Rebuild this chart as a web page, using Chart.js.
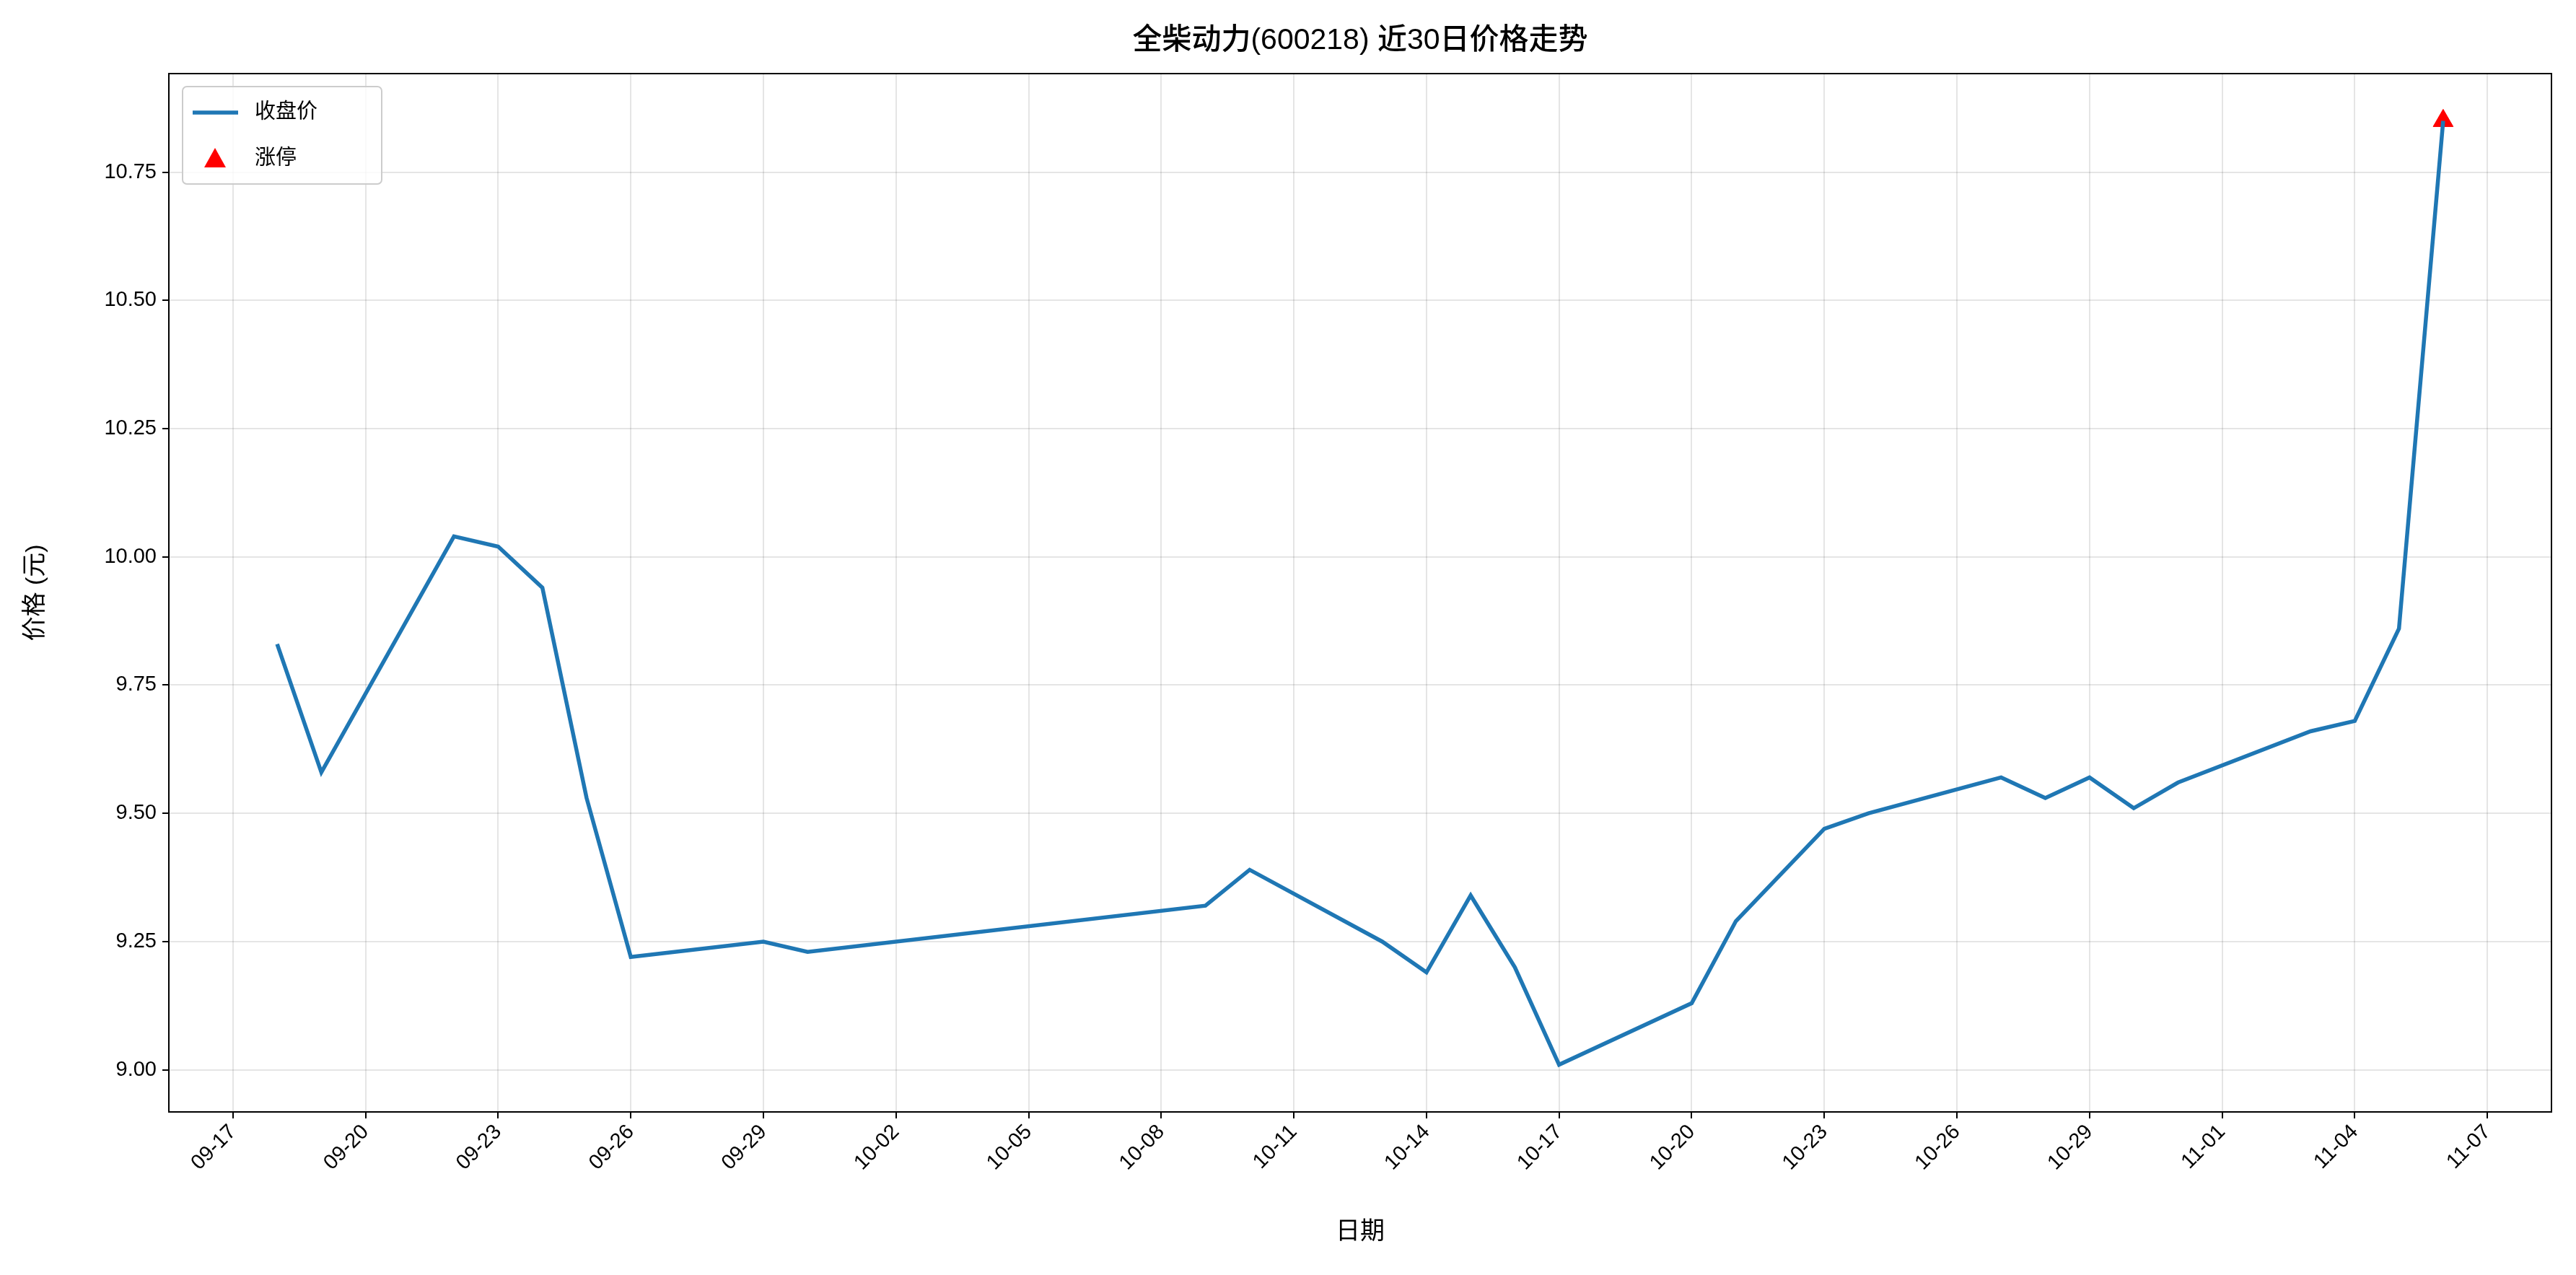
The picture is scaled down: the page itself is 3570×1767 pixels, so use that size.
<!DOCTYPE html>
<html>
<head>
<meta charset="utf-8">
<script src="https://cdn.jsdelivr.net/npm/chart.js"></script>
<style>
  body { margin: 0; background: #fff; }
  #wrap { width: 3570px; height: 1767px; }
</style>
</head>
<body>
<div id="wrap"><canvas id="price_chart" width="3570" height="1767"></canvas></div>
<script>
// dates (MM-DD) and closing prices
const dates = ['09-18','09-19','09-22','09-23','09-24','09-25','09-26','09-29','09-30',
  '10-09','10-10','10-13','10-14','10-15','10-16','10-17','10-20','10-21','10-22','10-23',
  '10-24','10-27','10-28','10-29','10-30','10-31','11-03','11-04','11-05','11-06'];
const closes = [9.83, 9.58, 10.04, 10.02, 9.94, 9.53, 9.22, 9.25, 9.23,
  9.32, 9.39, 9.25, 9.19, 9.34, 9.20, 9.01, 9.13, 9.29, 9.38, 9.47,
  9.50, 9.57, 9.53, 9.57, 9.51, 9.56, 9.66, 9.68, 9.86, 10.85];
const limitUpDates = ['11-06'];
const limitUpPrices = [10.85];

const base = Date.UTC(2025, 8, 17); // 09-17
const dayOf = s => {
  const [m, d] = s.split('-').map(Number);
  return Math.round((Date.UTC(2025, m - 1, d) - base) / 86400000);
};
const labelOf = n => {
  const dt = new Date(base + n * 86400000);
  return String(dt.getUTCMonth() + 1).padStart(2, '0') + '-' + String(dt.getUTCDate()).padStart(2, '0');
};

const FONT = '"Liberation Sans", Arial, "Noto Sans CJK SC", sans-serif';

const overlay = {
  id: 'overlay',
  afterDraw(chart) {
    const c = chart.ctx, a = chart.chartArea;
    c.save();
    c.fillStyle = '#000';
    c.font = '500 41px ' + FONT;
    c.textAlign = 'center';
    c.textBaseline = 'middle';
    c.fillText('全柴动力(600218) 近30日价格走势', (a.left + a.right) / 2, 57);
    // axis titles
    c.font = '34px ' + FONT;
    c.fillText('日期', (a.left + a.right) / 2, 1708);
    c.translate(50, (a.top + a.bottom) / 2);
    c.rotate(-Math.PI / 2);
    c.fillText('价格 (元)', 0, 0);
    c.setTransform(1, 0, 0, 1, 0, 0);
    // frame
    c.strokeStyle = '#000';
    c.lineWidth = 2;
    c.strokeRect(a.left, a.top, a.right - a.left, a.bottom - a.top);
    // legend
    const lx = 253, ly = 120, lw = 276, lh = 135;
    c.fillStyle = 'rgba(255,255,255,0.8)';
    c.strokeStyle = '#ccc';
    c.lineWidth = 2;
    c.beginPath();
    c.roundRect(lx, ly, lw, lh, 6);
    c.fill(); c.stroke();
    c.strokeStyle = '#1f77b4';
    c.lineWidth = 5.5;
    c.beginPath(); c.moveTo(lx + 14, ly + 36); c.lineTo(lx + 77, ly + 36); c.stroke();
    c.fillStyle = 'red';
    const tx = lx + 45, ty = ly + 100;
    c.beginPath(); c.moveTo(tx, ty - 15); c.lineTo(tx + 15, ty + 12); c.lineTo(tx - 15, ty + 12); c.closePath(); c.fill();
    c.fillStyle = '#000';
    c.font = '29px ' + FONT;
    c.textAlign = 'left';
    c.fillText('收盘价', lx + 100, ly + 36);
    c.fillText('涨停', lx + 100, ly + 100);
    c.restore();
  }
};

new Chart(document.getElementById('price_chart'), {
  type: 'line',
  data: {
    datasets: [{
      data: dates.map((d, i) => ({ x: dayOf(d), y: closes[i] })),
      borderColor: '#1f77b4',
      borderWidth: 5.5,
      pointRadius: 0,
      tension: 0
    }, {
      data: limitUpDates.map((d, i) => ({ x: dayOf(d), y: limitUpPrices[i] })),
      showLine: false,
      pointStyle: 'triangle',
      pointRadius: 16,
      backgroundColor: 'red',
      borderColor: 'red'
    }]
  },
  options: {
    responsive: false,
    animation: false,
    devicePixelRatio: 1,
    layout: { padding: { top: 102, right: 34, left: 0, bottom: 0 } },
    plugins: { legend: { display: false }, tooltip: { enabled: false } },
    scales: {
      x: {
        type: 'linear',
        min: -1.45, max: 52.45,
        afterBuildTicks: s => { s.ticks = []; for (let v = 0; v <= 51; v += 3) s.ticks.push({ value: v }); },
        afterFit: s => { s.height = 226; },
        ticks: {
          callback: v => labelOf(v),
          maxRotation: 45, minRotation: 45,
          color: '#000', font: { size: 29, family: FONT }, padding: 2
        },
        grid: { color: 'rgba(0,0,0,0.1)', lineWidth: 2, tickColor: '#000', tickLength: 9 },
        border: { color: '#000', width: 2 }
      },
      y: {
        min: 8.918, max: 10.942,
        afterBuildTicks: s => { s.ticks = []; for (let v = 9; v <= 10.76; v += 0.25) s.ticks.push({ value: v }); },
        afterFit: s => { s.width = 234; },
        ticks: {
          callback: v => v.toFixed(2),
          color: '#000', font: { size: 29, family: FONT }, padding: 8
        },
        grid: { color: 'rgba(0,0,0,0.1)', lineWidth: 2, tickColor: '#000', tickLength: 9 },
        border: { color: '#000', width: 2 }
      }
    }
  },
  plugins: [overlay]
});
</script>
</body>
</html>
